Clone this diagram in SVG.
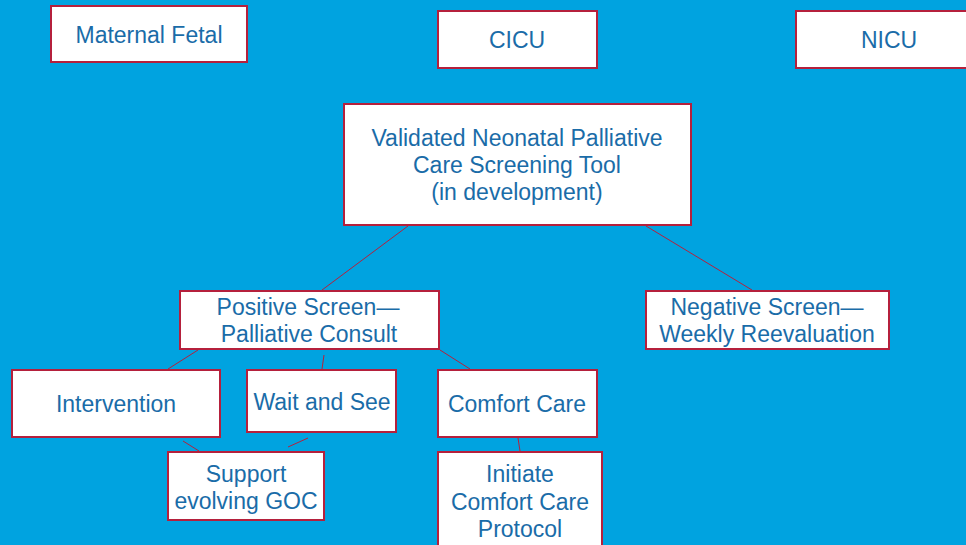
<svg xmlns="http://www.w3.org/2000/svg" width="966" height="545" viewBox="0 0 966 545">
<style>
.box{fill:#ffffff;stroke:#b5203c;stroke-width:2}
.t{font-family:"Liberation Sans",Arial,sans-serif;font-size:23px;fill:#1a6ca8;text-anchor:middle;dominant-baseline:central}
.c{stroke:#b5203c;stroke-width:1;fill:none}
</style>
<rect width="966" height="545" fill="#00a3e0"/>
<g id="connectors">
<line class="c" x1="408" y1="226" x2="322" y2="290"/>
<line class="c" x1="646" y1="226" x2="752" y2="290"/>
<line class="c" x1="198" y1="350" x2="168" y2="369"/>
<line class="c" x1="324" y1="355" x2="322" y2="369"/>
<line class="c" x1="440" y1="350" x2="470" y2="369"/>
<line class="c" x1="183" y1="441" x2="199" y2="451"/>
<line class="c" x1="308" y1="438" x2="288" y2="447"/>
<line class="c" x1="518" y1="438" x2="520" y2="451"/>
</g>
<g id="maternal"><rect class="box" x="51" y="6" width="196" height="56"/><text class="t" x="149" y="35">Maternal Fetal</text></g>
<g id="cicu"><rect class="box" x="438" y="11" width="159" height="57"/><text class="t" x="517" y="40">CICU</text></g>
<g id="nicu"><rect class="box" x="796" y="11" width="180" height="57"/><text class="t" x="889" y="40">NICU</text></g>
<g id="tool"><rect class="box" x="344" y="104" width="347" height="121"/>
<text class="t" x="517" y="138">Validated Neonatal Palliative</text>
<text class="t" x="517" y="165">Care Screening Tool</text>
<text class="t" x="517" y="192">(in development)</text></g>
<g id="positive"><rect class="box" x="180" y="291" width="259" height="58"/>
<text class="t" x="308" y="307">Positive Screen—</text>
<text class="t" x="309" y="334">Palliative Consult</text></g>
<g id="negative"><rect class="box" x="646" y="291" width="243" height="58"/>
<text class="t" x="767" y="307">Negative Screen—</text>
<text class="t" x="767" y="334">Weekly Reevaluation</text></g>
<g id="intervention"><rect class="box" x="12" y="370" width="208" height="67"/><text class="t" x="116" y="404">Intervention</text></g>
<g id="wait"><rect class="box" x="247" y="370" width="149" height="62"/><text class="t" x="322" y="402">Wait and See</text></g>
<g id="comfort"><rect class="box" x="438" y="370" width="159" height="67"/><text class="t" x="517" y="404">Comfort Care</text></g>
<g id="support"><rect class="box" x="168" y="452" width="156" height="68"/>
<text class="t" x="246" y="474">Support</text>
<text class="t" x="246" y="501">evolving GOC</text></g>
<g id="initiate"><rect class="box" x="438" y="452" width="164" height="100"/>
<text class="t" x="520" y="474">Initiate</text>
<text class="t" x="520" y="502">Comfort Care</text>
<text class="t" x="520" y="529">Protocol</text></g>
</svg>
